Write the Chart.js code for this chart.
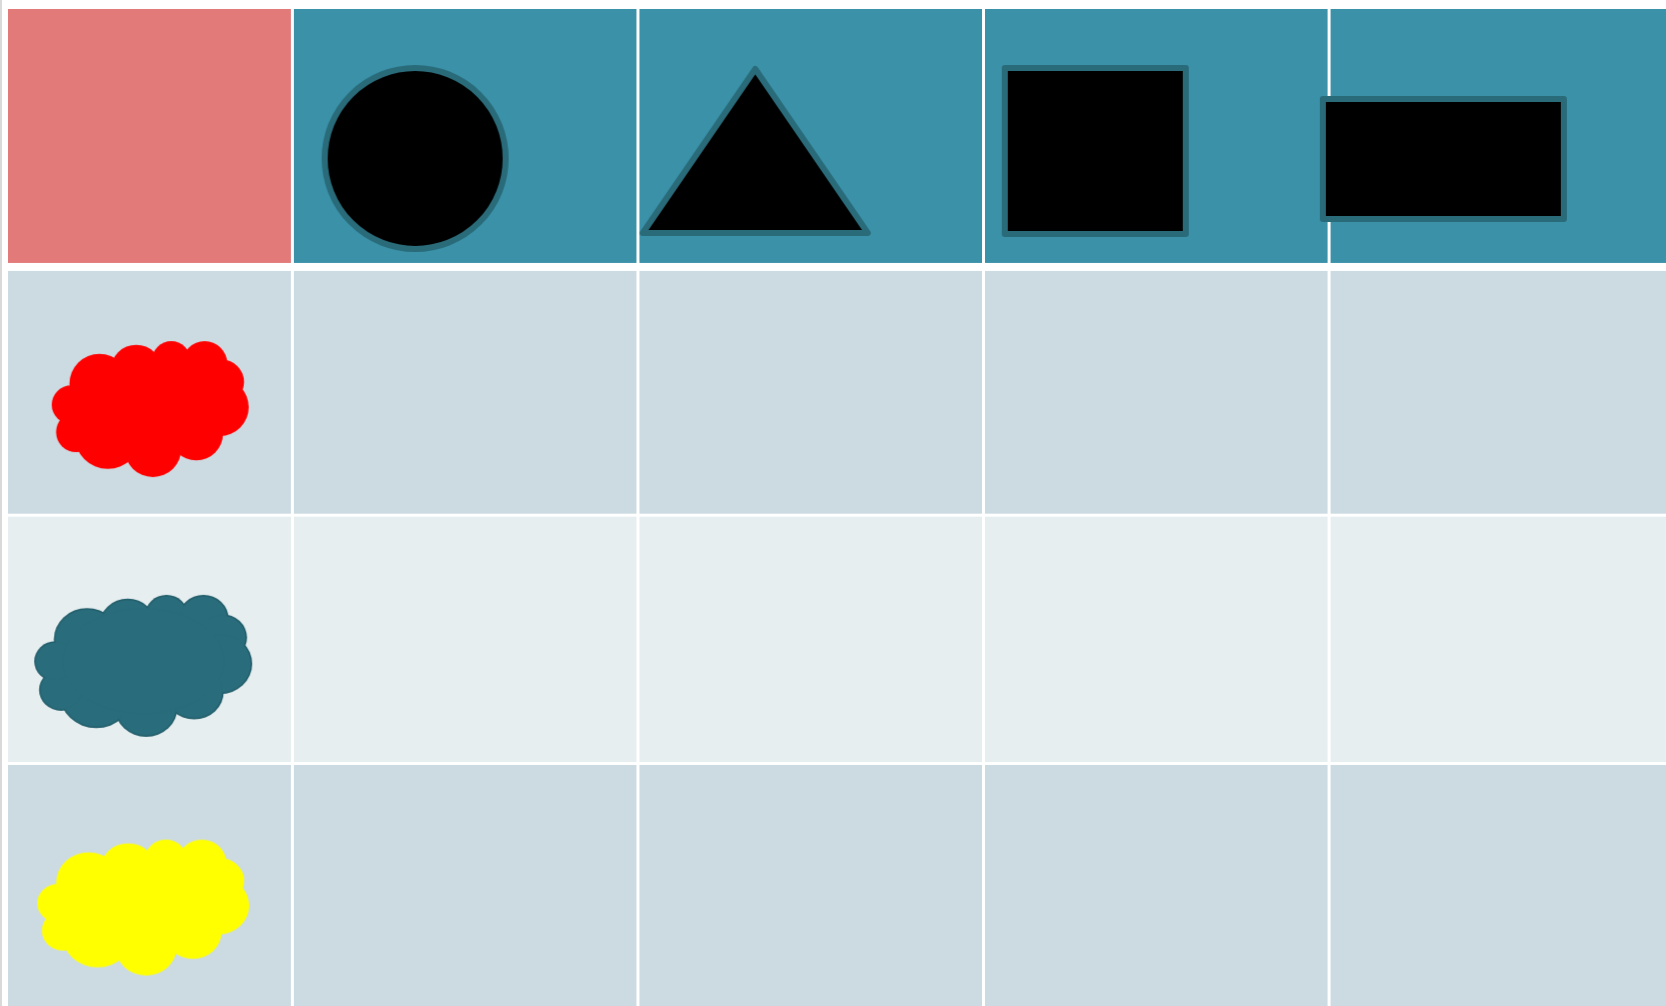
<!DOCTYPE html>
<html>
<head>
<meta charset="utf-8">
<title>Shapes grid</title>
<script src="https://cdn.jsdelivr.net/npm/chart.js@4.4.1/dist/chart.umd.min.js"></script>
<style>
  html, body { margin: 0; padding: 0; background: #fff; overflow: hidden; }
  #wrap { width: 1666px; height: 1006px; position: relative; }
</style>
</head>
<body>
<div id="wrap"><canvas id="grid"></canvas></div>
<script>
// --- DATA ---
const columns = ['', 'Circle', 'Triangle', 'Square', 'Rectangle'];
const rows = ['Header', 'Red', 'Teal', 'Yellow'];
const headerShapes = ['circle', 'triangle', 'square', 'rectangle']; // columns 1..4
const cloudRows = ['Red', 'Teal', 'Yellow'];
const cloudColors = ['#FF0000', '#296C7B', '#FFFF00'];

// --- LAYOUT (scale units) : first column narrower, header row a bit taller ---
const COL_W = [0.823, 1, 1, 1, 1];
const ROW_H = [1.039, 1, 1, 1];
const X_MAX = 4.798, Y_MAX = 4.016;

const edges = (sizes) => sizes.reduce((a, s) => { a.push(a[a.length - 1] + s); return a; }, [0]);
const xEdges = edges(COL_W), yEdges = edges(ROW_H);
const colMid = (i) => (xEdges[i] + xEdges[i + 1]) / 2;
const rowMid = (j) => (yEdges[j] + yEdges[j + 1]) / 2;

// --- STYLES ---
const CELL = { corner: '#E27A7A', header: '#3A91A8', odd: '#CCDBE2', even: '#E6EEF0' };
const rowFill = ['header', 'odd', 'even', 'odd'];
const EDGE = '#2A6B7A';

// size of the path + pixel offset from the cell centre
const SHAPE_STYLE = {
  circle:    { w: 181, h: 181, dx: -50,   dy: 20.5 },
  triangle:  { w: 225, h: 164, dx: -55.5, dy: 13 },
  square:    { w: 181, h: 166, dx: -61,   dy: 13 },
  rectangle: { w: 241, h: 120, dx: -58.5, dy: 21 }
};
const CLOUD_STYLE = [
  { w: 197, h: 136, dx: 0,  dy: 18 },
  { w: 218, h: 142, dx: -7, dy: 26.5, stroke: '#235E6B' },
  { w: 212, h: 136, dx: -7, dy: 20 }
];
// cloud lobes (bbox 590 x 408 in zoom units)
const LOBES = [
  [300, 400, 90], [410, 360, 77], [515, 330, 58], [615, 340, 68],
  [665, 395, 68], [660, 470, 87], [590, 550, 80], [460, 595, 85],
  [325, 555, 100], [230, 545, 60], [215, 463, 58]
].map(([x, y, r]) => [(x - 157) / 590, (y - 272) / 408, r / 590, r / 408]);

function makeShape(kind) {
  const s = SHAPE_STYLE[kind], lw = 6;
  const c = document.createElement('canvas');
  c.width = Math.ceil(2 * (Math.abs(s.dx) + s.w / 2 + lw));
  c.height = Math.ceil(2 * (Math.abs(s.dy) + s.h / 2 + lw));
  const g = c.getContext('2d');
  const cx = c.width / 2 + s.dx, cy = c.height / 2 + s.dy;
  g.beginPath();
  if (kind === 'circle') {
    g.arc(cx, cy, s.w / 2, 0, Math.PI * 2);
  } else if (kind === 'triangle') {
    g.moveTo(cx, cy - s.h / 2);
    g.lineTo(cx + s.w / 2, cy + s.h / 2);
    g.lineTo(cx - s.w / 2, cy + s.h / 2);
    g.closePath();
  } else {
    g.rect(cx - s.w / 2, cy - s.h / 2, s.w, s.h);
  }
  g.fillStyle = '#000';
  g.fill();
  g.lineWidth = lw;
  g.lineJoin = 'round';
  g.strokeStyle = EDGE;
  g.stroke();
  return c;
}

function makeCloud(color, s) {
  const c = document.createElement('canvas');
  c.width = Math.ceil(2 * (Math.abs(s.dx) + s.w / 2 + 4));
  c.height = Math.ceil(2 * (Math.abs(s.dy) + s.h / 2 + 4));
  const g = c.getContext('2d');
  const x0 = c.width / 2 + s.dx - s.w / 2, y0 = c.height / 2 + s.dy - s.h / 2;
  const lobe = (l, grow) => {
    g.beginPath();
    g.ellipse(x0 + l[0] * s.w, y0 + l[1] * s.h, l[2] * s.w + grow, l[3] * s.h + grow, 0, 0, Math.PI * 2);
  };
  const inner = [0.5, 0.47, 0.37, 0.37];
  if (s.stroke) {
    g.fillStyle = s.stroke;
    LOBES.forEach(l => { lobe(l, 0); g.fill(); });
    g.fillStyle = color;
    LOBES.forEach(l => { lobe(l, -1.5); g.fill(); });
    lobe(inner, 0); g.fill();
  } else {
    g.fillStyle = color;
    LOBES.concat([inner]).forEach(l => { lobe(l, 0); g.fill(); });
  }
  return c;
}

const shapeImages = headerShapes.map(makeShape);
const cloudImages = cloudColors.map((col, k) => makeCloud(col, CLOUD_STYLE[k]));

// --- GRID CELLS (drawn through the scales) ---
const gridPlugin = {
  id: 'gridCells',
  beforeDatasetsDraw(chart) {
    const { ctx, scales: { x, y } } = chart;
    ctx.save();
    ctx.fillStyle = '#D9D9D9';
    ctx.fillRect(0, 0, 2, chart.height);
    rows.forEach((r, j) => {
      columns.forEach((c, i) => {
        const l = x.getPixelForValue(xEdges[i]) + (i ? 1.5 : 0);
        const rt = x.getPixelForValue(xEdges[i + 1]) - 1.5;
        const t = y.getPixelForValue(yEdges[j]) + (j === 0 ? 0 : j === 1 ? 4 : 1.5);
        const b = y.getPixelForValue(yEdges[j + 1]) - (j === 0 ? 4 : 1.5);
        ctx.fillStyle = (j === 0 && i === 0) ? CELL.corner : CELL[rowFill[j]];
        ctx.fillRect(l, t, rt - l, b - t);
      });
    });
    ctx.restore();
  }
};

new Chart(document.getElementById('grid'), {
  type: 'scatter',
  data: {
    datasets: [
      {
        label: 'Shapes',
        data: headerShapes.map((s, k) => ({ x: colMid(k + 1), y: rowMid(0) })),
        pointStyle: (ctx) => shapeImages[ctx.dataIndex],
        pointRadius: 1,
        clip: false
      },
      {
        label: 'Clouds',
        data: cloudRows.map(r => ({ x: colMid(0), y: rowMid(rows.indexOf(r)) })),
        pointStyle: (ctx) => cloudImages[ctx.dataIndex],
        pointRadius: 1,
        clip: false
      }
    ]
  },
  options: {
    responsive: true,
    maintainAspectRatio: false,
    animation: false,
    events: [],
    layout: { autoPadding: false, padding: { left: 8, top: 9, right: 0, bottom: 0 } },
    plugins: { legend: { display: false }, tooltip: { enabled: false } },
    scales: {
      x: { type: 'linear', display: false, min: 0, max: X_MAX },
      y: { type: 'linear', display: false, min: 0, max: Y_MAX, reverse: true }
    }
  },
  plugins: [gridPlugin]
});
</script>
</body>
</html>
